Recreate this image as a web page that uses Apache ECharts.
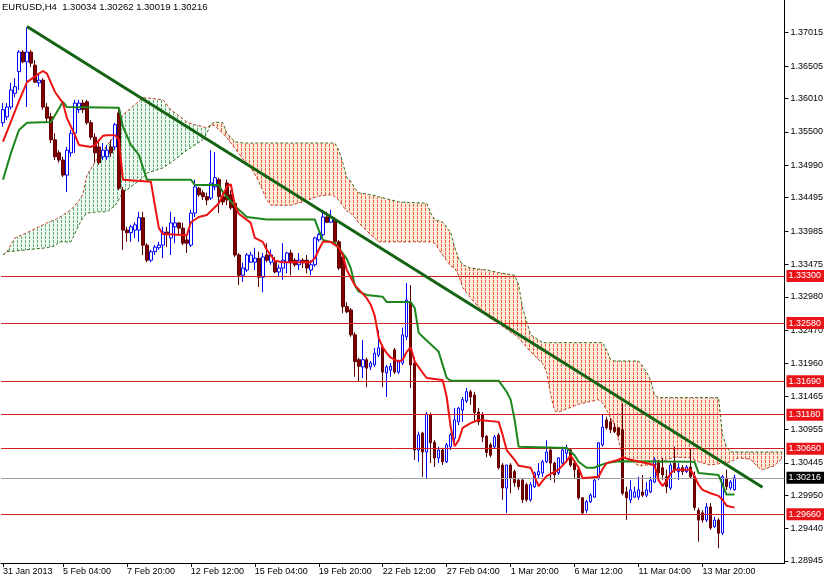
<!DOCTYPE html>
<html><head><meta charset="utf-8">
<script src="https://cdn.jsdelivr.net/npm/echarts@6/dist/echarts.min.js"></script>
<style>html,body{margin:0;padding:0;background:#fff}#c{width:826px;height:579px}</style>
</head><body><div id="c"></div>
<script>
// ---- data ----
const titleText = 'EURUSD,H4  1.30034 1.30262 1.30019 1.30216';
const barCount = 196;
const timeLabels = [[0,'31 Jan 2013'],[15,'5 Feb 04:00'],[31,'7 Feb 20:00'],[47,'12 Feb 12:00'],[63,'15 Feb 04:00'],[79,'19 Feb 20:00'],[95,'22 Feb 12:00'],[111,'27 Feb 04:00'],[127,'1 Mar 20:00'],[143,'6 Mar 12:00'],[159,'11 Mar 04:00'],[175,'13 Mar 20:00']];
const yTicks = [1.37015,1.36505,1.36010,1.35500,1.34990,1.34495,1.33985,1.33475,1.32980,1.32470,1.31960,1.31465,1.30955,1.30445,1.29950,1.29440,1.28945];
const levels = [1.33300,1.32580,1.31690,1.31180,1.30660,1.29660];
const lastPrice = 1.30216;
// [open, close, low, high]
const candles = [
[1.3564,1.3584,1.3558,1.3594],[1.3573,1.3588,1.3568,1.3594],[1.3588,1.3614,1.3584,1.3625],[1.3609,1.3619,1.3603,1.3632],[1.3642,1.3672,1.3614,1.3675],
[1.3672,1.3657,1.3655,1.3675],[1.3657,1.3672,1.3588,1.3710],[1.3672,1.3655,1.3649,1.3675],[1.3652,1.3626,1.3625,1.3660],[1.3625,1.3629,1.3619,1.3637],
[1.3629,1.3588,1.3584,1.3632],[1.3588,1.3571,1.3564,1.3594],[1.3573,1.3538,1.3533,1.3579],[1.3538,1.3512,1.3507,1.3548],[1.3518,1.3507,1.3503,1.3522],
[1.3507,1.3484,1.3481,1.3512],[1.3484,1.3522,1.3458,1.3527],[1.3518,1.3548,1.3512,1.3553],[1.3548,1.3594,1.3518,1.3599],[1.3584,1.3594,1.3579,1.3599],
[1.3594,1.3584,1.3579,1.3599],[1.3596,1.3564,1.3561,1.3599],[1.3564,1.3542,1.3538,1.3568],[1.3542,1.3518,1.3503,1.3548],[1.3527,1.3503,1.3500,1.3538],
[1.3512,1.3522,1.3507,1.3533],[1.3512,1.3522,1.3507,1.3530],[1.3527,1.3518,1.3512,1.3538],[1.3527,1.3561,1.3522,1.3564],[1.3579,1.3464,1.3461,1.3584],
[1.3461,1.3400,1.3370,1.3466],[1.3400,1.3396,1.3382,1.3405],[1.3396,1.3405,1.3382,1.3408],[1.3400,1.3408,1.3388,1.3412],[1.3400,1.3419,1.3382,1.3428],
[1.3419,1.3377,1.3362,1.3428],[1.3377,1.3354,1.3351,1.3380],[1.3354,1.3367,1.3351,1.3370],[1.3367,1.3374,1.3362,1.3377],[1.3373,1.3377,1.3370,1.3382],
[1.3377,1.3397,1.3357,1.3405],[1.3397,1.3393,1.3374,1.3405],[1.3388,1.3411,1.3362,1.3428],[1.3405,1.3411,1.3380,1.3420],[1.3411,1.3403,1.3393,1.3412],
[1.3403,1.3380,1.3377,1.3411],[1.3385,1.3380,1.3365,1.3393],[1.3377,1.3426,1.3374,1.3431],[1.3426,1.3466,1.3420,1.3477],[1.3464,1.3454,1.3451,1.3466],
[1.3457,1.3451,1.3446,1.3461],[1.3451,1.3446,1.3438,1.3457],[1.3449,1.3472,1.3446,1.3522],[1.3466,1.3480,1.3461,1.3519],[1.3477,1.3451,1.3426,1.3480],
[1.3451,1.3443,1.3438,1.3458],[1.3472,1.3446,1.3438,1.3477],[1.3454,1.3434,1.3431,1.3461],[1.3441,1.3362,1.3359,1.3446],[1.3362,1.3331,1.3316,1.3365],
[1.3331,1.3342,1.3321,1.3350],[1.3339,1.3362,1.3336,1.3365],[1.3351,1.3362,1.3350,1.3367],[1.3351,1.3357,1.3339,1.3373],[1.3357,1.3328,1.3313,1.3367],
[1.3328,1.3359,1.3305,1.3365],[1.3362,1.3354,1.3351,1.3380],[1.3351,1.3362,1.3347,1.3370],[1.3351,1.3336,1.3334,1.3359],[1.3336,1.3342,1.3328,1.3347],
[1.3342,1.3354,1.3324,1.3380],[1.3351,1.3365,1.3334,1.3367],[1.3365,1.3350,1.3331,1.3370],[1.3354,1.3347,1.3344,1.3357],[1.3347,1.3354,1.3339,1.3365],
[1.3354,1.3350,1.3342,1.3357],[1.3354,1.3342,1.3334,1.3362],[1.3339,1.3347,1.3331,1.3354],[1.3347,1.3388,1.3344,1.3390],[1.3385,1.3393,1.3382,1.3396],
[1.3393,1.3420,1.3390,1.3431],[1.3420,1.3412,1.3411,1.3428],[1.3412,1.3420,1.3411,1.3431],[1.3416,1.3382,1.3380,1.3420],[1.3382,1.3342,1.3339,1.3385],
[1.3359,1.3283,1.3273,1.3362],[1.3283,1.3275,1.3273,1.3290],[1.3278,1.3240,1.3237,1.3281],[1.3240,1.3199,1.3176,1.3244],[1.3202,1.3192,1.3168,1.3205],
[1.3191,1.3202,1.3174,1.3232],[1.3202,1.3189,1.3160,1.3205],[1.3191,1.3197,1.3186,1.3200],[1.3194,1.3212,1.3191,1.3220],[1.3209,1.3220,1.3206,1.3247],
[1.3221,1.3183,1.3160,1.3224],[1.3182,1.3191,1.3145,1.3194],[1.3186,1.3192,1.3176,1.3197],[1.3217,1.3183,1.3180,1.3220],[1.3183,1.3199,1.3180,1.3202],
[1.3197,1.3240,1.3194,1.3251],[1.3237,1.3293,1.3232,1.3319],[1.3290,1.3194,1.3159,1.3316],[1.3197,1.3064,1.3049,1.3206],[1.3064,1.3087,1.3046,1.3092],
[1.3090,1.3061,1.3023,1.3092],[1.3061,1.3119,1.3021,1.3122],[1.3118,1.3075,1.3044,1.3121],[1.3076,1.3052,1.3038,1.3079],[1.3052,1.3064,1.3044,1.3069],
[1.3064,1.3046,1.3041,1.3067],[1.3046,1.3072,1.3044,1.3075],[1.3069,1.3087,1.3064,1.3090],[1.3082,1.3110,1.3076,1.3128],[1.3107,1.3128,1.3102,1.3130],
[1.3125,1.3141,1.3107,1.3145],[1.3139,1.3153,1.3136,1.3159],[1.3153,1.3145,1.3133,1.3156],[1.3148,1.3121,1.3107,1.3153],[1.3122,1.3107,1.3102,1.3128],
[1.3118,1.3084,1.3076,1.3122],[1.3085,1.3060,1.3053,1.3087],[1.3072,1.3056,1.3053,1.3075],[1.3069,1.3084,1.3067,1.3087],[1.3087,1.3037,1.3034,1.3090],
[1.3041,1.3006,1.2988,1.3044],[1.3006,1.3041,1.2968,1.3041],[1.3041,1.3021,1.2998,1.3044],[1.3031,1.3014,1.3008,1.3034],[1.3018,1.3008,1.3003,1.3021],
[1.3018,1.2988,1.2983,1.3021],[1.3011,1.2988,1.2985,1.3014],[1.2988,1.3011,1.2985,1.3015],[1.3008,1.3029,1.3006,1.3031],[1.3026,1.3031,1.3021,1.3044],
[1.3029,1.3046,1.3023,1.3049],[1.3046,1.3061,1.3044,1.3079],[1.3064,1.3044,1.3018,1.3069],[1.3044,1.3026,1.3014,1.3046],[1.3029,1.3052,1.3026,1.3053],
[1.3044,1.3064,1.3041,1.3069],[1.3059,1.3067,1.3049,1.3072],[1.3064,1.3041,1.3038,1.3067],[1.3044,1.3034,1.3021,1.3046],[1.3034,1.2991,1.2988,1.3038],
[1.2991,1.2968,1.2965,1.2992],[1.2972,1.2985,1.2968,1.2988],[1.2985,1.2995,1.2983,1.2998],[1.2992,1.3018,1.2991,1.3021],[1.3021,1.3075,1.3018,1.3076],
[1.3072,1.3099,1.3069,1.3118],[1.3110,1.3098,1.3095,1.3115],[1.3107,1.3095,1.3090,1.3113],[1.3099,1.3092,1.3090,1.3105],[1.3098,1.3087,1.3084,1.3099],
[1.3095,1.2998,1.2995,1.3136],[1.3000,1.2991,1.2957,1.3008],[1.2988,1.3003,1.2983,1.3018],[1.2992,1.3000,1.2991,1.3008],[1.2992,1.3003,1.2988,1.3023],
[1.3000,1.2995,1.2992,1.3026],[1.2995,1.3003,1.2992,1.3015],[1.3000,1.3018,1.2998,1.3023],[1.3015,1.3049,1.3014,1.3053],[1.3044,1.3029,1.3023,1.3049],
[1.3037,1.3026,1.3018,1.3052],[1.3023,1.3008,1.2998,1.3034],[1.3006,1.3041,1.3003,1.3044],[1.3044,1.3034,1.3029,1.3069],[1.3031,1.3037,1.3018,1.3044],
[1.3037,1.3031,1.3026,1.3041],[1.3031,1.3038,1.3029,1.3041],[1.3038,1.3023,1.3021,1.3067],[1.3023,1.2976,1.2972,1.3031],[1.2972,1.2957,1.2924,1.2976],
[1.2968,1.2957,1.2953,1.2972],[1.2957,1.2977,1.2954,1.2983],[1.2977,1.2945,1.2942,1.2983],[1.2947,1.2957,1.2945,1.2962],[1.2957,1.2937,1.2914,1.2960],
[1.2937,1.3023,1.2934,1.3026],[1.3021,1.3008,1.3003,1.3034],[1.3006,1.3015,1.3003,1.3018],[1.30034,1.30216,1.30019,1.30262]
];
// Ichimoku Tenkan-sen (red) and Kijun-sen (green): [bar index, price]
const tenkan = [[0,1.3535],[4,1.3597],[6,1.3626],[9,1.3639],[10,1.3643],[11,1.3639],[13,1.3611],[15,1.3594],[16,1.3571],[18,1.3545],[19,1.3530],[22,1.3527],[23,1.3530],[25,1.3544],[26,1.3545],[28,1.3545],[29,1.3538],[30,1.3477],[37,1.3474],[38,1.3438],[39,1.3403],[40,1.3394],[46,1.3392],[47,1.3412],[49,1.3420],[51,1.3423],[53,1.3435],[54,1.3441],[56,1.3466],[57,1.3470],[58,1.3438],[59,1.3425],[62,1.3411],[63,1.3388],[65,1.3382],[66,1.3370],[68,1.3353],[70,1.3351],[77,1.3351],[78,1.3357],[79,1.3370],[80,1.3382],[82,1.3382],[84,1.3373],[85,1.3362],[86,1.3339],[88,1.3316],[91,1.3296],[92,1.3286],[93,1.3269],[94,1.3235],[95,1.3221],[96,1.3212],[97,1.3205],[99,1.3199],[100,1.3202],[101,1.3214],[102,1.3221],[103,1.3199],[105,1.3182],[106,1.3174],[110,1.3171],[111,1.3145],[112,1.3099],[113,1.3070],[114,1.3079],[115,1.3098],[117,1.3105],[119,1.3110],[124,1.3107],[125,1.3087],[126,1.3064],[128,1.3049],[129,1.3040],[132,1.3037],[133,1.3023],[134,1.3009],[135,1.3017],[136,1.3024],[139,1.3034],[141,1.3047],[142,1.3056],[144,1.3037],[145,1.3021],[149,1.3023],[150,1.3035],[151,1.3044],[154,1.3049],[155,1.3053],[157,1.3049],[163,1.3041],[164,1.3018],[165,1.3009],[166,1.3017],[167,1.3028],[168,1.3034],[172,1.3034],[173,1.3024],[174,1.3011],[175,1.3003],[177,1.2998],[179,1.2994],[180,1.2988],[181,1.2979],[183,1.2976]];
const kijun = [[0,1.3477],[2,1.3518],[4,1.3553],[6,1.3564],[12,1.3565],[15,1.3596],[16,1.3588],[29,1.3587],[30,1.3558],[32,1.3530],[34,1.3515],[35,1.3496],[36,1.3477],[47,1.3477],[48,1.3469],[54,1.3469],[55,1.3458],[58,1.3437],[61,1.3420],[66,1.3416],[78,1.3416],[79,1.3400],[80,1.3385],[83,1.3380],[84,1.3373],[86,1.3356],[87,1.3342],[88,1.3316],[89,1.3306],[91,1.3301],[95,1.3298],[96,1.3290],[102,1.3290],[103,1.3281],[104,1.3243],[105,1.3237],[108,1.3220],[109,1.3214],[111,1.3174],[112,1.3170],[124,1.3170],[126,1.3153],[127,1.3141],[128,1.3110],[129,1.3069],[141,1.3067],[143,1.3056],[144,1.3046],[146,1.3037],[148,1.3037],[149,1.3040],[151,1.3044],[154,1.3047],[173,1.3046],[174,1.3029],[179,1.3026],[180,1.3011],[181,1.2996],[183,1.2996]];
// Senkou spans (cloud edges) at bar indices
const cloudIdx = [0,1,3,6,11,13,14,17,19,20,21,24,26,28,30,35,36,40,42,46,48,50,51,52,53,55,56,58,60,62,64,66,67,72,75,79,82,83,84,85,86,87,88,89,92,94,99,106,107,108,110,112,113,114,115,117,121,124,128,129,130,132,135,136,137,138,139,144,149,150,151,152,153,154,155,157,159,160,161,162,163,164,166,168,172,174,177,179,180,181,182,184,187,189,190,193,195];
const spanA = [1.3362,1.3367,1.3388,1.3396,1.3411,1.3416,1.3419,1.3431,1.3445,1.3455,
1.3484,1.3513,1.3529,1.3545,1.3576,1.3602,1.3602,1.3599,1.3584,1.3565,
1.3561,1.3558,1.3556,1.3561,1.3559,1.3548,1.3541,1.3525,1.3509,1.3496,
1.3474,1.3446,1.3438,1.3438,1.3443,1.3452,1.3454,1.3451,1.3446,1.3437,
1.3429,1.3426,1.3419,1.3411,1.3393,1.3382,1.3382,1.3382,1.3382,1.3380,
1.3362,1.3345,1.3342,1.3331,1.3312,1.3296,1.3269,1.3257,1.3240,1.3235,
1.3228,1.3214,1.3196,1.3183,1.3148,1.3124,1.3122,1.3134,1.3141,1.3136,
1.3125,1.3113,1.3102,1.3079,1.3053,1.3049,1.3040,1.3040,1.3041,1.3041,
1.3041,1.3044,1.3049,1.3053,1.3052,1.3046,1.3041,1.3043,1.3044,1.3044,
1.3046,1.3052,1.3050,1.3037,1.3034,1.3040,1.3052];
const spanB = [1.3362,1.3367,1.3368,1.3370,1.3373,1.3376,1.3382,1.3382,1.3408,1.3419,
1.3426,1.3428,1.3428,1.3437,1.3457,1.3480,1.3487,1.3495,1.3503,1.3522,
1.3530,1.3538,1.3548,1.3562,1.3565,1.3564,1.3548,1.3535,1.3533,1.3533,
1.3533,1.3533,1.3533,1.3533,1.3533,1.3533,1.3533,1.3533,1.3522,1.3503,
1.3480,1.3475,1.3464,1.3457,1.3454,1.3451,1.3443,1.3441,1.3426,1.3416,
1.3412,1.3396,1.3374,1.3356,1.3347,1.3342,1.3339,1.3335,1.3331,1.3316,
1.3281,1.3240,1.3228,1.3228,1.3228,1.3228,1.3228,1.3228,1.3228,1.3228,
1.3217,1.3202,1.3200,1.3200,1.3200,1.3200,1.3200,1.3192,1.3183,1.3171,
1.3148,1.3144,1.3144,1.3144,1.3144,1.3144,1.3144,1.3144,1.3087,1.3069,
1.3061,1.3061,1.3061,1.3061,1.3061,1.3061,1.3061];
const trendLine = [[6,1.3711],[190,1.3007]];

// ---- chart ----
const FONT = 'Liberation Sans, Arial, sans-serif';
const categories = Array.from({length: barCount}, (_, i) => String(i));
const labelAt = {};
timeLabels.forEach(([i, t]) => { labelAt[i] = t; });
const hasLabel = (i) => labelAt[i] !== undefined;

function hatch(bg, dash) {
  const c = document.createElement('canvas');
  c.width = 4; c.height = 4;
  const g = c.getContext('2d');
  g.fillStyle = bg; g.fillRect(0, 0, 4, 4);
  g.fillStyle = dash; g.fillRect(1, 0, 1, 3);
  return c;
}
const greenPat = { image: hatch('#f2faf4', '#5cb57a'), repeat: 'repeat' };
const orangePat = { image: hatch('#fdebdd', '#f4603a'), repeat: 'repeat' };

const cloudSegs = [];
for (let k = 0; k < cloudIdx.length - 1; k++) {
  cloudSegs.push([cloudIdx[k], spanA[k], spanB[k], cloudIdx[k + 1], spanA[k + 1], spanB[k + 1]]);
}
const pairs = (idx, vals) => idx.map((i, k) => [i, vals[k]]);
const RED_LINE = { color: '#d02020', width: 1, type: 'solid' };

const chart = echarts.init(document.getElementById('c'), null, { renderer: 'canvas' });
chart.setOption({
  animation: false,
  backgroundColor: '#ffffff',
  textStyle: { fontFamily: FONT },
  title: {
    text: titleText, left: 2, top: 2, padding: 0,
    textStyle: { fontSize: 9.5, fontWeight: 'normal', color: '#000', fontFamily: FONT }
  },
  grid: { left: 0, right: 40, top: 0, bottom: 16, containLabel: false },
  xAxis: {
    type: 'category', data: categories, boundaryGap: true,
    axisLine: { show: true, lineStyle: { color: '#000', width: 1 } },
    axisTick: { show: true, alignWithLabel: true, length: 4, interval: (i) => hasLabel(i), lineStyle: { color: '#000' } },
    axisLabel: { show: true, interval: (i) => hasLabel(i), formatter: (v, i) => labelAt[i] || '', align: 'left', margin: 4, fontSize: 9, color: '#000', fontFamily: FONT },
    splitLine: { show: false }
  },
  yAxis: {
    type: 'value', position: 'right', min: 1.28914, max: 1.37515,
    axisLine: { show: true, lineStyle: { color: '#000', width: 1 } },
    axisTick: { show: true, length: 4, customValues: yTicks, lineStyle: { color: '#000' } },
    axisLabel: { show: true, customValues: yTicks, formatter: (v) => v.toFixed(5), margin: 6, fontSize: 9, color: '#000', fontFamily: FONT },
    splitLine: { show: false }
  },
  series: [
    {
      name: 'cloud', type: 'custom', z: 1, silent: true,
      encode: { x: [0, 3], y: [1, 2, 4, 5] },
      data: cloudSegs,
      renderItem: function (params, api) {
        const i0 = api.value(0), a0 = api.value(1), b0 = api.value(2);
        const i1 = api.value(3), a1 = api.value(4), b1 = api.value(5);
        const pts = [api.coord([i0, a0]), api.coord([i1, a1]), api.coord([i1, b1]), api.coord([i0, b0])];
        const green = (a0 + a1) > (b0 + b1);
        return { type: 'polygon', shape: { points: pts }, style: { fill: green ? greenPat : orangePat, stroke: null, lineWidth: 0 } };
      }
    },
    {
      name: 'levels', type: 'line', data: [], z: 2, silent: true,
      markLine: {
        silent: true, symbol: ['none', 'none'], animation: false, precision: 5,
        label: { show: true, position: 'end', distance: 2, formatter: (p) => Number(p.value).toFixed(5), color: '#fff', backgroundColor: '#e8141a', padding: [2, 3, 1, 2], fontSize: 9, fontFamily: FONT },
        lineStyle: RED_LINE,
        emphasis: { disabled: true },
        data: levels.map(v => ({ yAxis: v, lineStyle: RED_LINE })).concat([{ yAxis: lastPrice, lineStyle: { color: '#a0a0a0', width: 1, type: 'solid' }, label: { backgroundColor: '#000000' } }])
      }
    },
    {
      name: 'spanA', type: 'line', z: 3, silent: true, showSymbol: false, symbol: 'none',
      data: pairs(cloudIdx, spanA),
      lineStyle: { color: '#c0402a', width: 1, type: [3, 2] }
    },
    {
      name: 'spanB', type: 'line', z: 3, silent: true, showSymbol: false, symbol: 'none',
      data: pairs(cloudIdx, spanB),
      lineStyle: { color: '#3a6a1a', width: 1, type: [3, 2] }
    },
    {
      name: 'EURUSD', type: 'candlestick', z: 4, silent: true, barWidth: 3,
      data: candles,
      itemStyle: { color: '#ffffff', color0: '#800000', borderColor: '#0000ff', borderColor0: '#600000', borderWidth: 1 }
    },
    {
      name: 'Kijun', type: 'line', z: 5, silent: true, showSymbol: false, symbol: 'none',
      data: kijun, lineStyle: { color: '#1c861c', width: 2 }
    },
    {
      name: 'Tenkan', type: 'line', z: 5, silent: true, showSymbol: false, symbol: 'none',
      data: tenkan, lineStyle: { color: '#ee1111', width: 2 }
    },
    {
      name: 'trend', type: 'line', z: 6, silent: true, showSymbol: false, symbol: 'none',
      data: trendLine, lineStyle: { color: '#136313', width: 3 }
    }
  ]
});
</script>
</body></html>
